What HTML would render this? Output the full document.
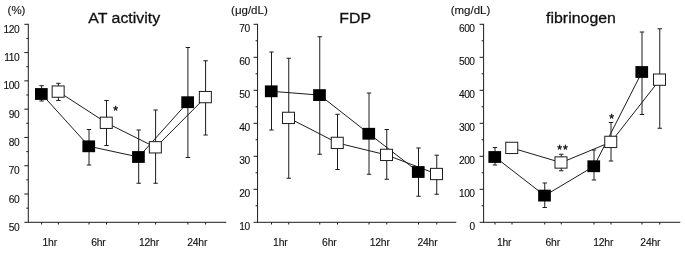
<!DOCTYPE html><html><head><meta charset="utf-8"><title>Figure</title><style>html,body{margin:0;padding:0;background:#fff}svg{display:block}text{font-family:"Liberation Sans",Arial,Helvetica,sans-serif;fill:#111;stroke:#111;stroke-width:.12}.t{font-size:15.3px;stroke-width:.3}.u{font-size:11.5px}.y{font-size:10.2px;letter-spacing:-0.45px}.x{font-size:10.15px;letter-spacing:-0.2px}.s{font-size:12.2px;stroke-width:.4;letter-spacing:.9px}</style></head><body>
<svg width="685" height="253" viewBox="0 0 685 253">
<rect width="685" height="253" fill="#fff"/>
<g stroke="#1c1c1c" stroke-width="1" fill="none">
<path d="M28.3 23.8V222.3"/>
<path d="M24.3 222.3H226.3"/>
<path d="M24.3 24.30H28.3M26.3 38.44H28.3M24.3 52.59H28.3M26.3 66.73H28.3M24.3 80.87H28.3M26.3 95.01H28.3M24.3 109.16H28.3M26.3 123.30H28.3M24.3 137.44H28.3M26.3 151.59H28.3M24.3 165.73H28.3M26.3 179.87H28.3M24.3 194.01H28.3M26.3 208.16H28.3"/>
<path d="M41.6 222.3v2.2M89 222.3v2.2M138.7 222.3v2.2M187.9 222.3v2.2M58.4 222.3v2.2M106.5 222.3v2.2M155.6 222.3v2.2M205.6 222.3v2.2"/>
<path d="M41.6 85.7V101M39.4 85.7h4.4M39.4 101h4.4M89 129.5V165M86.8 129.5h4.4M86.8 165h4.4M138.7 130V183.25M136.5 130h4.4M136.5 183.25h4.4M187.9 47.5V157.5M185.70000000000002 47.5h4.4M185.70000000000002 157.5h4.4M58.4 83.3V100.5M56.199999999999996 83.3h4.4M56.199999999999996 100.5h4.4M106.5 100.5V145.5M104.3 100.5h4.4M104.3 145.5h4.4M155.6 110V183.25M153.4 110h4.4M153.4 183.25h4.4M205.6 60.75V135M203.4 60.75h4.4M203.4 135h4.4"/>
<polyline points="41.6,94 89,146.3 138.7,157 187.9,102.2"/>
<polyline points="58.4,91.7 106.5,122.9 155.6,147.4 205.6,97.2"/>
</g>
<rect x="52.15" y="85.95" width="12" height="11.3" fill="#fff" stroke="#1c1c1c" stroke-width="1"/>
<rect x="100.25" y="117.15" width="12" height="11.3" fill="#fff" stroke="#1c1c1c" stroke-width="1"/>
<rect x="149.35" y="141.65" width="12" height="11.3" fill="#fff" stroke="#1c1c1c" stroke-width="1"/>
<rect x="199.35" y="91.45" width="12" height="11.3" fill="#fff" stroke="#1c1c1c" stroke-width="1"/>
<rect x="35.00" y="88.10" width="12.7" height="11.8" fill="#000"/>
<rect x="82.40" y="140.40" width="12.7" height="11.8" fill="#000"/>
<rect x="132.10" y="151.10" width="12.7" height="11.8" fill="#000"/>
<rect x="181.30" y="96.30" width="12.7" height="11.8" fill="#000"/>
<text class="u" x="16.5" y="13.8" text-anchor="middle">(%)</text>
<text class="t" transform="translate(124.2 22.8) scale(1.04 1)" text-anchor="middle">AT activity</text>
<text class="y" x="19.20" y="32.90" text-anchor="end">120</text>
<text class="y" x="19.20" y="61.19" text-anchor="end">110</text>
<text class="y" x="19.20" y="89.47" text-anchor="end">100</text>
<text class="y" x="19.20" y="117.76" text-anchor="end">90</text>
<text class="y" x="19.20" y="146.04" text-anchor="end">80</text>
<text class="y" x="19.20" y="174.33" text-anchor="end">70</text>
<text class="y" x="19.20" y="202.61" text-anchor="end">60</text>
<text class="y" x="19.20" y="230.90" text-anchor="end">50</text>
<text class="x" transform="translate(49.7 246.1) scale(1.025 1)" text-anchor="middle">1hr</text>
<text class="x" transform="translate(98.4 246.1) scale(1.025 1)" text-anchor="middle">6hr</text>
<text class="x" transform="translate(148.89999999999998 246.1) scale(1.025 1)" text-anchor="middle">12hr</text>
<text class="x" transform="translate(197.2 246.1) scale(1.025 1)" text-anchor="middle">24hr</text>
<text class="s" x="116" y="114.9" text-anchor="middle">*</text>
<g stroke="#1c1c1c" stroke-width="1" fill="none">
<path d="M257.55 23.8V222.3"/>
<path d="M253.55 222.3H456.3"/>
<path d="M253.55 24.30H257.55M255.55 40.80H257.55M253.55 57.30H257.55M255.55 73.80H257.55M253.55 90.30H257.55M255.55 106.80H257.55M253.55 123.30H257.55M255.55 139.80H257.55M253.55 156.30H257.55M255.55 172.80H257.55M253.55 189.30H257.55M255.55 205.80H257.55"/>
<path d="M271.5 222.3v2.2M319.75 222.3v2.2M369 222.3v2.2M418.5 222.3v2.2M288.75 222.3v2.2M337.5 222.3v2.2M386.75 222.3v2.2M436.75 222.3v2.2"/>
<path d="M271.5 52V130M269.3 52h4.4M269.3 130h4.4M319.75 36.75V154.25M317.55 36.75h4.4M317.55 154.25h4.4M369 93V174.25M366.8 93h4.4M366.8 174.25h4.4M418.5 148V196.25M416.3 148h4.4M416.3 196.25h4.4M288.75 58.25V178.25M286.55 58.25h4.4M286.55 178.25h4.4M337.5 114.25V169.5M335.3 114.25h4.4M335.3 169.5h4.4M386.75 129.5V179.25M384.55 129.5h4.4M384.55 179.25h4.4M436.75 155.2V194.25M434.55 155.2h4.4M434.55 194.25h4.4"/>
<polyline points="271.5,91.3 319.75,95.1 369,133.75 418.5,172.0"/>
<polyline points="288.75,118 337.5,143 386.75,155 436.75,174.1"/>
</g>
<rect x="282.50" y="112.25" width="12" height="11.3" fill="#fff" stroke="#1c1c1c" stroke-width="1"/>
<rect x="331.25" y="137.25" width="12" height="11.3" fill="#fff" stroke="#1c1c1c" stroke-width="1"/>
<rect x="380.50" y="149.25" width="12" height="11.3" fill="#fff" stroke="#1c1c1c" stroke-width="1"/>
<rect x="430.50" y="168.35" width="12" height="11.3" fill="#fff" stroke="#1c1c1c" stroke-width="1"/>
<rect x="264.90" y="85.40" width="12.7" height="11.8" fill="#000"/>
<rect x="313.15" y="89.20" width="12.7" height="11.8" fill="#000"/>
<rect x="362.40" y="127.85" width="12.7" height="11.8" fill="#000"/>
<rect x="411.90" y="166.10" width="12.7" height="11.8" fill="#000"/>
<text class="u" x="249.4" y="13.8" text-anchor="middle">(μg/dL)</text>
<text class="t" transform="translate(355.2 22.8) scale(1.04 1)" text-anchor="middle">FDP</text>
<text class="y" x="249.75" y="31.80" text-anchor="end">70</text>
<text class="y" x="249.75" y="64.80" text-anchor="end">60</text>
<text class="y" x="249.75" y="97.80" text-anchor="end">50</text>
<text class="y" x="249.75" y="130.80" text-anchor="end">40</text>
<text class="y" x="249.75" y="163.80" text-anchor="end">30</text>
<text class="y" x="249.75" y="196.80" text-anchor="end">20</text>
<text class="y" x="249.75" y="229.80" text-anchor="end">10</text>
<text class="x" transform="translate(280.3 246.1) scale(1.025 1)" text-anchor="middle">1hr</text>
<text class="x" transform="translate(329.3 246.1) scale(1.025 1)" text-anchor="middle">6hr</text>
<text class="x" transform="translate(379.7 246.1) scale(1.025 1)" text-anchor="middle">12hr</text>
<text class="x" transform="translate(427.45 246.1) scale(1.025 1)" text-anchor="middle">24hr</text>
<g stroke="#1c1c1c" stroke-width="1" fill="none">
<path d="M483.6 23.8V222.3"/>
<path d="M479.6 222.3H680.3"/>
<path d="M479.6 24.30H483.6M481.6 40.80H483.6M479.6 57.30H483.6M481.6 73.80H483.6M479.6 90.30H483.6M481.6 106.80H483.6M479.6 123.30H483.6M481.6 139.80H483.6M479.6 156.30H483.6M481.6 172.80H483.6M479.6 189.30H483.6M481.6 205.80H483.6"/>
<path d="M495 222.3v2.2M544.75 222.3v2.2M594 222.3v2.2M642 222.3v2.2M512 222.3v2.2M561.25 222.3v2.2M611 222.3v2.2M659.75 222.3v2.2"/>
<path d="M495 147.5V165M492.8 147.5h4.4M492.8 165h4.4M544.75 183V207.5M542.55 183h4.4M542.55 207.5h4.4M594 150V180M591.8 150h4.4M591.8 180h4.4M642 32V114.5M639.8 32h4.4M639.8 114.5h4.4M561.25 154.25V170.75M559.05 154.25h4.4M559.05 170.75h4.4M611 122.5V161M608.8 122.5h4.4M608.8 161h4.4M659.75 28.75V128.25M657.55 28.75h4.4M657.55 128.25h4.4"/>
<polyline points="495,157 544.75,195.6 594,166.25 642,72"/>
<polyline points="512,148 561.25,162.6 611,142 659.75,79.75"/>
</g>
<rect x="505.75" y="142.25" width="12" height="11.3" fill="#fff" stroke="#1c1c1c" stroke-width="1"/>
<rect x="555.00" y="156.85" width="12" height="11.3" fill="#fff" stroke="#1c1c1c" stroke-width="1"/>
<rect x="604.75" y="136.25" width="12" height="11.3" fill="#fff" stroke="#1c1c1c" stroke-width="1"/>
<rect x="653.50" y="74.00" width="12" height="11.3" fill="#fff" stroke="#1c1c1c" stroke-width="1"/>
<rect x="488.40" y="151.10" width="12.7" height="11.8" fill="#000"/>
<rect x="538.15" y="189.70" width="12.7" height="11.8" fill="#000"/>
<rect x="587.40" y="160.35" width="12.7" height="11.8" fill="#000"/>
<rect x="635.40" y="66.10" width="12.7" height="11.8" fill="#000"/>
<text class="u" x="470.5" y="13.8" text-anchor="middle">(mg/dL)</text>
<text class="t" transform="translate(581 22.8) scale(1.04 1)" text-anchor="middle">fibrinogen</text>
<text class="y" x="474.60" y="31.65" text-anchor="end">600</text>
<text class="y" x="474.60" y="64.65" text-anchor="end">500</text>
<text class="y" x="474.60" y="97.65" text-anchor="end">400</text>
<text class="y" x="474.60" y="130.65" text-anchor="end">300</text>
<text class="y" x="474.60" y="163.65" text-anchor="end">200</text>
<text class="y" x="474.60" y="196.65" text-anchor="end">100</text>
<text class="y" x="474.60" y="229.65" text-anchor="end">0</text>
<text class="x" transform="translate(504.09999999999997 246.1) scale(1.025 1)" text-anchor="middle">1hr</text>
<text class="x" transform="translate(552.7 246.1) scale(1.025 1)" text-anchor="middle">6hr</text>
<text class="x" transform="translate(603.2 246.1) scale(1.025 1)" text-anchor="middle">12hr</text>
<text class="x" transform="translate(650.3000000000001 246.1) scale(1.025 1)" text-anchor="middle">24hr</text>
<text class="s" x="563" y="153.9" text-anchor="middle">**</text>
<text class="s" x="612" y="123.4" text-anchor="middle">*</text>
</svg></body></html>
